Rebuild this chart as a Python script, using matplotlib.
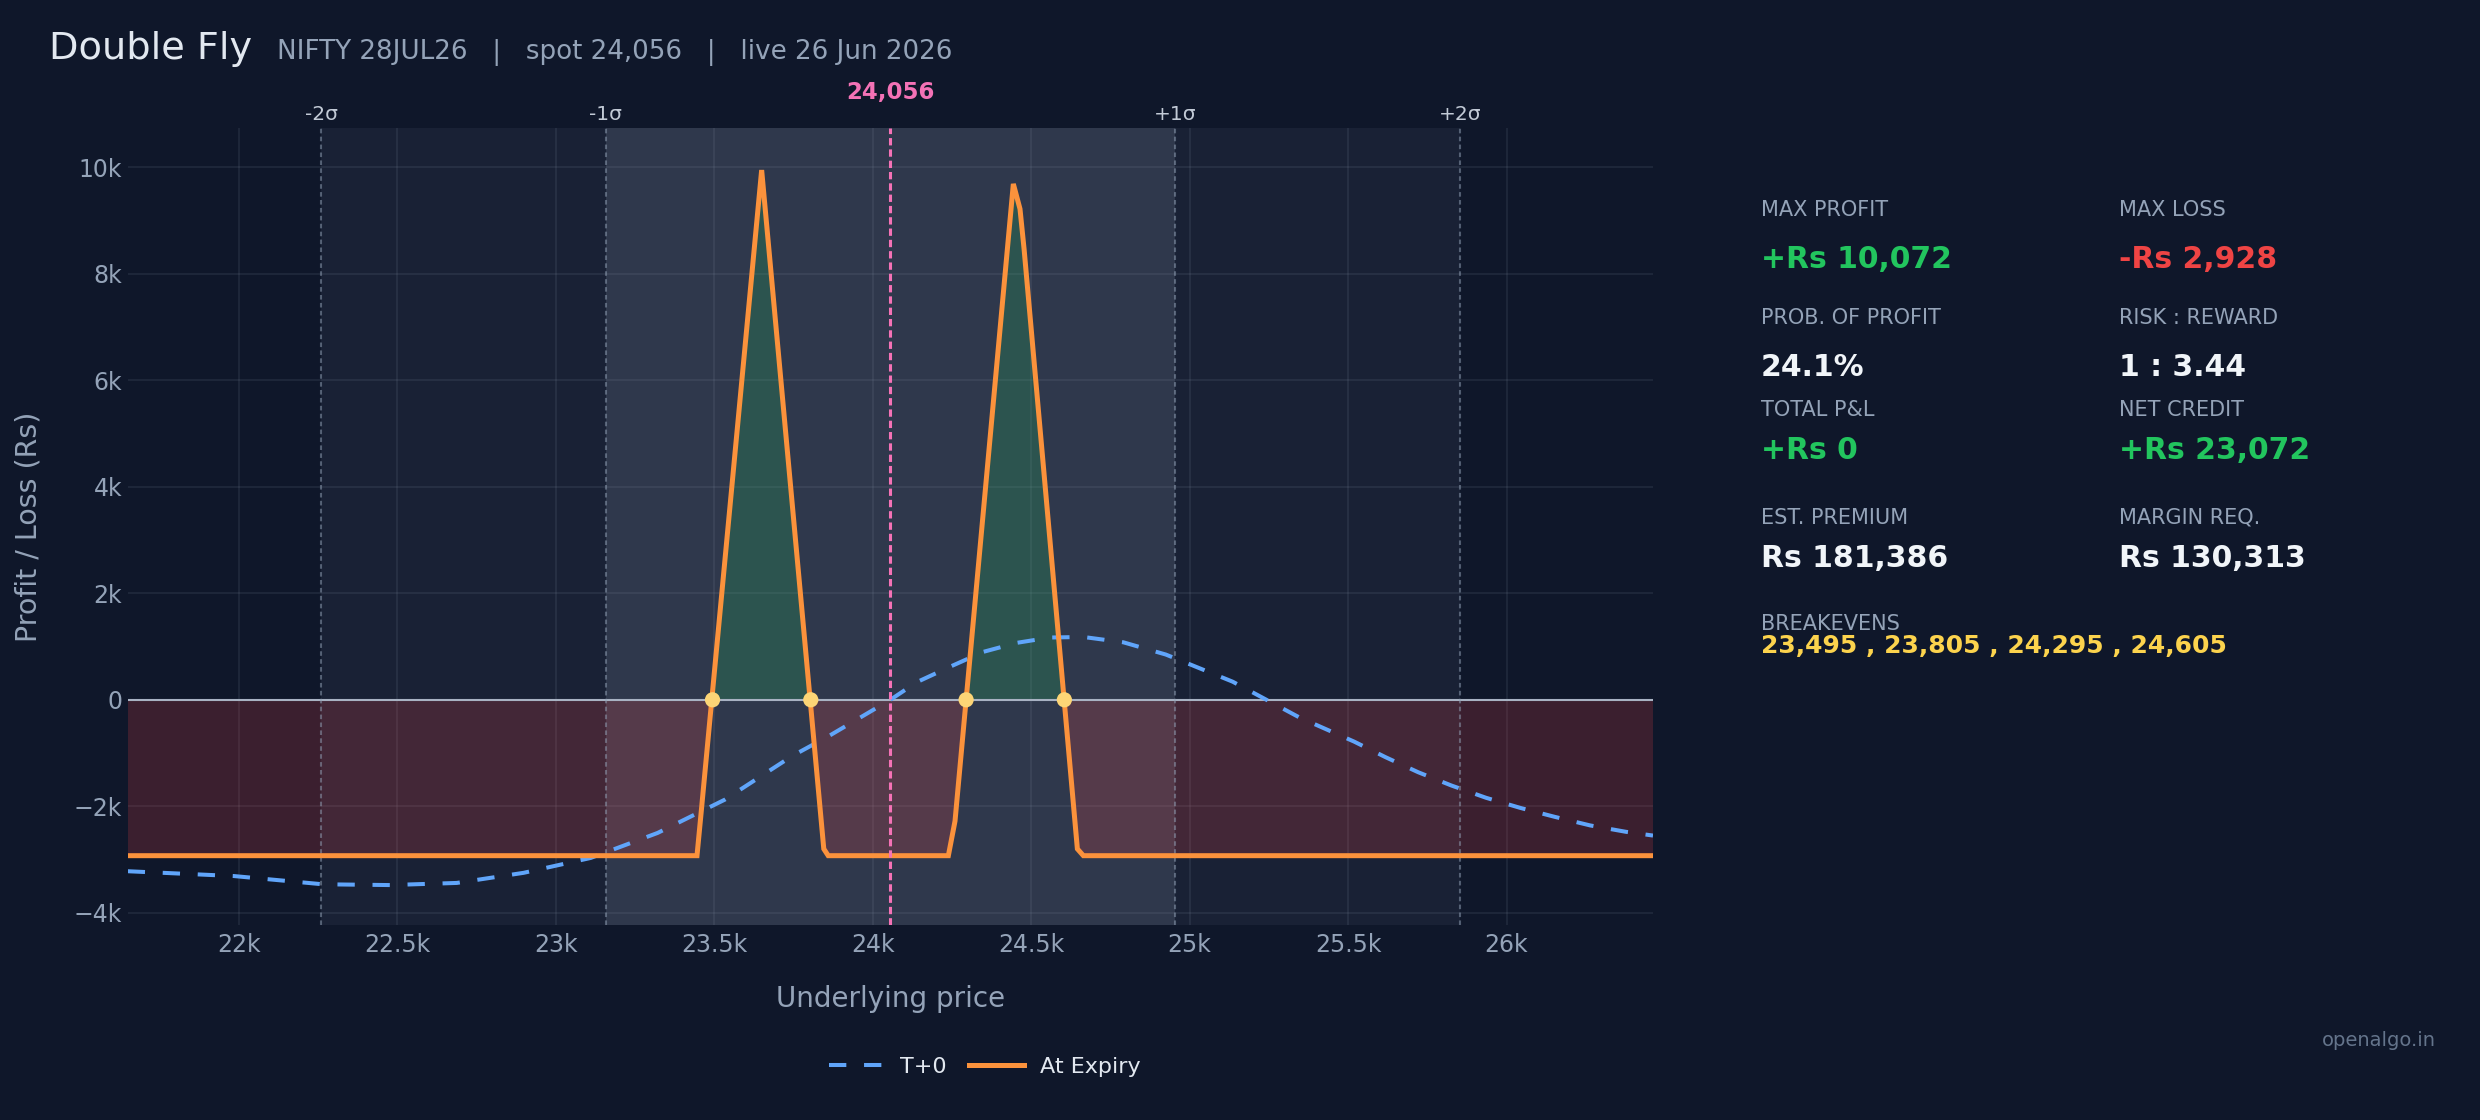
import matplotlib
matplotlib.use("Agg")
import matplotlib.pyplot as plt
import matplotlib.transforms as mtransforms
import numpy as np

# ---------------- data ----------------
spot = 24056
x_range = [21650, 26462]
y_range = [-4230, 10740]

sigma_labels = ["-2σ", "-1σ", "+1σ", "+2σ"]
sigma_prices = [22260, 23158, 24954, 25852]

expiry_x = [21650, 23446, 23459, 23650, 23846, 23860, 24239, 24260, 24444, 24465,
            24478, 24646, 24665, 26462]
expiry_y = [-2928, -2928, -2125, 9950, -2800, -2928, -2928, -2278, 9690, 9220,
            8460, -2800, -2928, -2928]

t0_x = [21650, 21984, 22265, 22477, 22688, 22899, 23111, 23322, 23534, 23745,
        23865, 24056, 24139, 24244, 24349, 24455, 24560, 24665, 24791, 24925,
        25136, 25346, 25519, 25619, 25721, 25826, 25935, 26043, 26153, 26264,
        26377, 26462]
t0_y = [-3220, -3310, -3465, -3480, -3440, -3250, -2970, -2500, -1875, -1060,
        -670, 0, 330, 620, 900, 1070, 1170, 1180, 1080, 850,
        340, -330, -785, -1080, -1360, -1610, -1840, -2030, -2200, -2360,
        -2480, -2550]

breakevens = [23495, 23805, 24295, 24605]

x_ticks = [22000, 22500, 23000, 23500, 24000, 24500, 25000, 25500, 26000]
x_tick_labels = ["22k", "22.5k", "23k", "23.5k", "24k", "24.5k", "25k", "25.5k", "26k"]
y_ticks = [-4000, -2000, 0, 2000, 4000, 6000, 8000, 10000]
y_tick_labels = ["\u22124k", "\u22122k", "0", "2k", "4k", "6k", "8k", "10k"]

title = "Double Fly"
subtitle = "NIFTY 28JUL26   |   spot 24,056   |   live 26 Jun 2026"
spot_label = "24,056"

stat_labels = ["MAX PROFIT", "MAX LOSS", "PROB. OF PROFIT", "RISK : REWARD",
               "TOTAL P&L", "NET CREDIT", "EST. PREMIUM", "MARGIN REQ."]
stat_values = ["+Rs 10,072", "-Rs 2,928", "24.1%", "1 : 3.44",
               "+Rs 0", "+Rs 23,072", "Rs 181,386", "Rs 130,313"]
stat_kinds = ["pos", "neg", "neu", "neu", "pos", "pos", "neu", "neu"]
breakeven_label = "BREAKEVENS"
breakeven_text = "23,495 , 23,805 , 24,295 , 24,605"

# ---------------- style ----------------
BG = "#0f172a"
MUTED = "#94a3b8"
LIGHT = "#e2e8f0"
GREEN = "#22c55e"
RED = "#ef4444"
ORANGE = "#fb923c"
BLUE = "#60a5fa"
PINK = "#f472b6"
YELLOW = "#fcd34d"
DOT = "#fcd576"
SLATE = (148 / 255, 163 / 255, 184 / 255)
kind_color = {"pos": GREEN, "neg": RED, "neu": "#f1f5f9"}

W, H = 2480, 1120
fig = plt.figure(figsize=(W / 100, H / 100), dpi=100, facecolor=BG)

def fx(px):
    return px / W

def fy(py):
    return 1 - py / H

ax = fig.add_axes([fx(127.7), fy(925), fx(1653) - fx(127.7), fy(128) - fy(925)])
ax.set_facecolor(BG)
for s in ax.spines.values():
    s.set_visible(False)
ax.set_xlim(*x_range)
ax.set_ylim(*y_range)

ax.set_xticks(x_ticks)
ax.set_xticklabels(x_tick_labels)
ax.set_yticks(y_ticks)
ax.set_yticklabels(y_tick_labels)
ax.tick_params(axis="both", length=0, labelsize=17, labelcolor=MUTED)
ax.tick_params(axis="x", pad=6)
ax.tick_params(axis="y", pad=4)
ax.set_axisbelow(True)
ax.grid(True, color=SLATE, alpha=0.12, lw=1.3, zorder=0.5)

# sigma bands
ax.axvspan(sigma_prices[0], sigma_prices[3], facecolor=SLATE, alpha=0.08,
           lw=0, zorder=0.2)
ax.axvspan(sigma_prices[1], sigma_prices[2], facecolor=SLATE, alpha=0.18,
           lw=0, zorder=0.3)

ex = np.array(expiry_x, dtype=float)
ey = np.array(expiry_y, dtype=float)
ax.fill_between(ex, ey, 0, where=ey >= 0, interpolate=True,
                facecolor=(34 / 255, 197 / 255, 94 / 255), alpha=0.2, lw=0, zorder=1)
ax.fill_between(ex, ey, 0, where=ey <= 0, interpolate=True,
                facecolor=(239 / 255, 68 / 255, 68 / 255), alpha=0.2, lw=0, zorder=1)

ax.axhline(0, color="#a8b2c3", lw=1.5, zorder=2)

for p in sigma_prices:
    ax.axvline(p, color=SLATE, alpha=0.5, lw=1.5, ls=(0, (2.2, 1.6)), zorder=2.2)

l_t0, = ax.plot(t0_x, t0_y, color=BLUE, lw=2.9, zorder=3, label="T+0")
l_t0.set_dashes([4.3, 4.4])
l_exp, = ax.plot(expiry_x, expiry_y, color=ORANGE, lw=3.6, zorder=4,
                 solid_joinstyle="miter", label="At Expiry")

ax.axvline(spot, color=PINK, lw=2.2, ls=(0, (2.4, 1.3)), zorder=4.5)

ax.scatter(breakevens, [0] * len(breakevens), s=120, color=DOT, edgecolors="none",
           zorder=5)

# labels above plot
blend = mtransforms.blended_transform_factory(ax.transData, fig.transFigure)
for lab, p in zip(sigma_labels, sigma_prices):
    ax.text(p, fy(120), lab, transform=blend, ha="center", va="baseline",
            fontsize=14.5, color="#c2cad6", clip_on=False)
ax.text(spot, fy(99), spot_label, transform=blend, ha="center", va="baseline",
        fontsize=16.5, fontweight="bold", color=PINK, clip_on=False)

# titles
fig.text(fx(49), fy(59.3), title, fontsize=27.5, color=LIGHT, va="baseline", ha="left")
fig.text(fx(277), fy(59.3), subtitle, fontsize=18.8, color=MUTED, va="baseline", ha="left")

fig.text(fx(890.8), fy(1006.7), "Underlying price", fontsize=20, color=MUTED,
         ha="center", va="baseline")
fig.text(fx(29), fy(527), "Profit / Loss (Rs)", fontsize=20.5, color=MUTED,
         ha="center", va="center", rotation=90)

# legend
fig.legend([l_t0, l_exp], ["T+0", "At Expiry"], loc="center",
           bbox_to_anchor=(fx(984.5), fy(1066.7)), ncol=2, frameon=False,
           fontsize=16, labelcolor=LIGHT, handlelength=2.5, handletextpad=0.7,
           columnspacing=1.0)

# right stats panel
col_x = [fx(1761), fx(2119)]
label_base = [216, 324, 416, 524]
value_base = [267.7, 375.7, 459.3, 567.3]
for i, (lab, val, kind) in enumerate(zip(stat_labels, stat_values, stat_kinds)):
    r, c = divmod(i, 2)
    fig.text(col_x[c], fy(label_base[r]), lab, fontsize=15, color=MUTED,
             ha="left", va="baseline")
    fig.text(col_x[c], fy(value_base[r]), val, fontsize=21.5, fontweight="bold",
             color=kind_color[kind], ha="left", va="baseline")
fig.text(col_x[0], fy(630), breakeven_label, fontsize=15, color=MUTED,
         ha="left", va="baseline")
fig.text(col_x[0], fy(652.7), breakeven_text, fontsize=18, fontweight="bold",
         color=YELLOW, ha="left", va="baseline")

fig.text(fx(2436), fy(1046), "openalgo.in", fontsize=14, color="#64748b",
         ha="right", va="baseline")

fig.savefig("out.png", dpi=100, facecolor=BG)
